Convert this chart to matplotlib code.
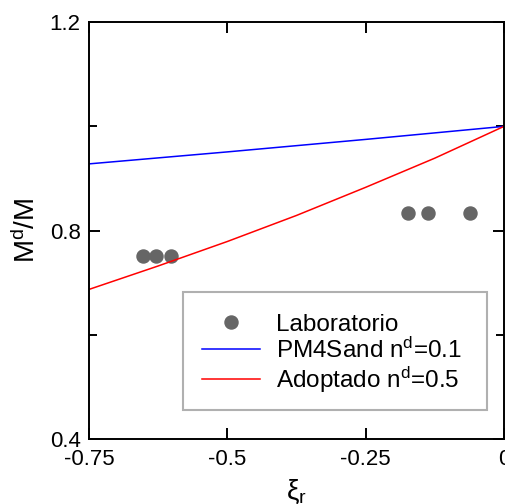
import matplotlib
matplotlib.use("Agg")
import matplotlib.pyplot as plt
from matplotlib.ticker import MultipleLocator
from matplotlib.patches import Rectangle

plt.rcParams['font.family'] = ['Liberation Sans', 'DejaVu Sans']
plt.rcParams['mathtext.fontset'] = 'custom'
plt.rcParams['mathtext.rm'] = 'Liberation Sans'
plt.rcParams['mathtext.it'] = 'Liberation Sans'

# Laboratory points
lab_xi = [-0.652, -0.629, -0.601, -0.173, -0.138, -0.062]
lab_m = [0.751, 0.751, 0.751, 0.834, 0.834, 0.834]

# PM4Sand nd=0.1 curve
pm4_xi = [-0.75, -0.5, -0.25, 0.0]
pm4_m = [0.928, 0.951, 0.975, 1.0]

# Adopted nd=0.5 curve
ado_xi = [-0.75, -0.625, -0.5, -0.375, -0.25, -0.125, 0.0]
ado_m = [0.687, 0.732, 0.779, 0.829, 0.883, 0.939, 1.0]

fig = plt.figure(figsize=(5.05, 5.04), dpi=100)
ax = fig.add_axes([0.176, 0.129, 0.822, 0.827])

ax.plot(lab_xi, lab_m, 'o', color='#666666', markersize=9.4, linestyle='none',
        label='Laboratorio', clip_on=False)
ax.plot(pm4_xi, pm4_m, color='#0000ff', lw=1.1, label='PM4Sand n$^\\mathrm{d}$=0.1')
ax.plot(ado_xi, ado_m, color='#ff0000', lw=1.1, label='Adoptado n$^\\mathrm{d}$=0.5')

ax.set_xlim(-0.75, 0)
ax.set_ylim(0.4, 1.2)
ax.set_xticks([-0.75, -0.5, -0.25, 0])
ax.set_xticklabels(['-0.75', '-0.5', '-0.25', '0'])
ax.set_yticks([0.4, 0.8, 1.2])
ax.set_yticklabels(['0.4', '0.8', '1.2'])
ax.yaxis.set_minor_locator(MultipleLocator(0.2))
ax.tick_params(which='major', direction='in', top=True, right=True, length=8, width=1.4,
               labelsize=16)
ax.tick_params(axis='x', which='major', pad=7.5)
ax.tick_params(axis='y', which='major', pad=6)
ax.tick_params(which='minor', direction='in', left=True, right=True, length=6, width=1.4)
for s in ax.spines.values():
    s.set_linewidth(1.4)

ax.set_xlabel('$\\xi_\\mathrm{r}$', fontsize=20, labelpad=5)
ax.set_ylabel('M$^\\mathrm{d}$/M', fontsize=20, labelpad=6)

# legend frame drawn as a rectangle in axes coordinates
frame = Rectangle((0.2265, 0.0695), 0.7325, 0.283, transform=ax.transAxes,
                  facecolor='white', edgecolor='#b0b0b0', lw=1.5, zorder=4)
ax.add_patch(frame)

leg = ax.legend(loc='center left', bbox_to_anchor=(0.272, 0.203),
                fontsize=17.5, frameon=False, borderpad=0, labelspacing=0.08,
                handlelength=2.4, handletextpad=0.65, borderaxespad=0)
leg.set_zorder(5)

fig.savefig('out.png', dpi=100)
